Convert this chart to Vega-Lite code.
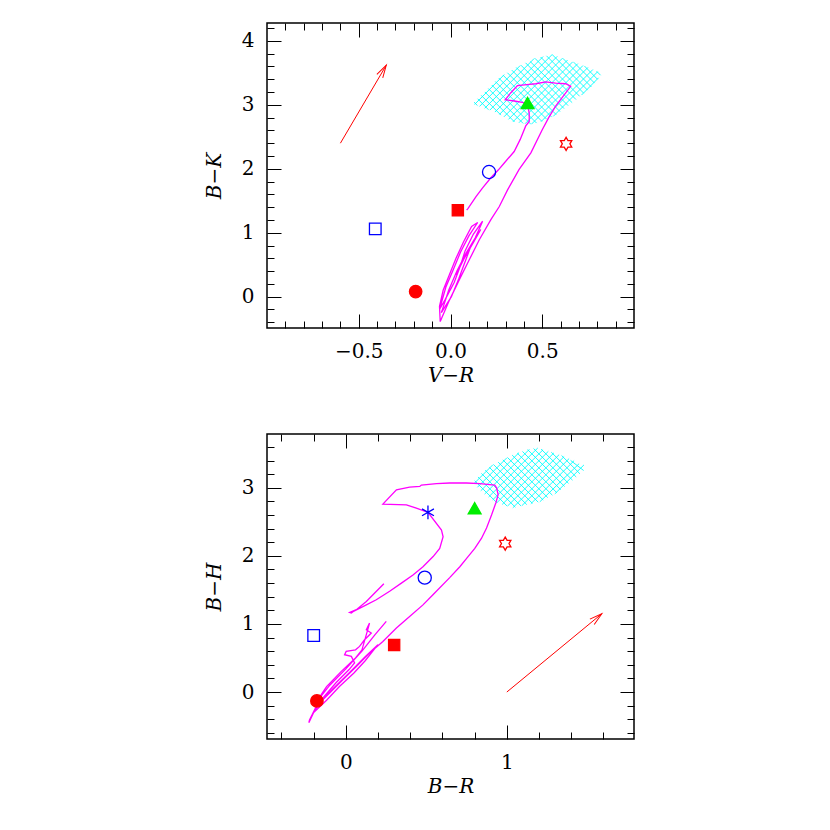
{
  "$schema": "https://vega.github.io/schema/vega-lite/v6.json",
  "padding": {"left": 203, "top": 17, "right": 5, "bottom": 5},
  "background": "white",
  "bounds": "flush",
  "spacing": 106,
  "config": {
    "view": {"stroke": "#000000", "strokeWidth": 1.5},
    "axis": {
      "grid": false, "domain": false, "tickColor": "#000000", "tickWidth": 1,
      "labelFont": "DejaVu Serif", "labelFontSize": 20, "labelColor": "#000000",
      "titleFont": "DejaVu Serif", "titleFontSize": 20, "titleFontStyle": "italic",
      "titleFontWeight": "normal", "titleColor": "#000000",
      "labelOverlap": false, "labelFlush": false
    }
  },
  "datasets": {
    "hatchTop": [
      {"x":0.293,"y":3.473,"x2":0.131,"y2":3.006},{"x":0.380,"y":3.615,"x2":0.158,"y2":2.975},
      {"x":0.456,"y":3.725,"x2":0.186,"y2":2.945},{"x":0.505,"y":3.756,"x2":0.214,"y2":2.917},
      {"x":0.554,"y":3.787,"x2":0.242,"y2":2.887},{"x":0.582,"y":3.759,"x2":0.267,"y2":2.851},
      {"x":0.610,"y":3.729,"x2":0.291,"y2":2.812},{"x":0.638,"y":3.701,"x2":0.316,"y2":2.773},
      {"x":0.666,"y":3.673,"x2":0.341,"y2":2.737},{"x":0.694,"y":3.645,"x2":0.373,"y2":2.720},
      {"x":0.722,"y":3.615,"x2":0.406,"y2":2.704},{"x":0.749,"y":3.585,"x2":0.442,"y2":2.700},
      {"x":0.776,"y":3.553,"x2":0.493,"y2":2.736},{"x":0.802,"y":3.518,"x2":0.560,"y2":2.820},
      {"x":0.807,"y":3.423,"x2":0.714,"y2":3.153},
      {"x":0.128,"y":3.042,"x2":0.147,"y2":2.989},{"x":0.148,"y":3.095,"x2":0.207,"y2":2.923},
      {"x":0.167,"y":3.149,"x2":0.275,"y2":2.839},{"x":0.187,"y":3.202,"x2":0.349,"y2":2.732},
      {"x":0.206,"y":3.255,"x2":0.396,"y2":2.709},{"x":0.225,"y":3.310,"x2":0.438,"y2":2.696},
      {"x":0.244,"y":3.365,"x2":0.469,"y2":2.715},{"x":0.263,"y":3.419,"x2":0.498,"y2":2.742},
      {"x":0.287,"y":3.462,"x2":0.524,"y2":2.775},{"x":0.310,"y":3.502,"x2":0.551,"y2":2.809},
      {"x":0.334,"y":3.543,"x2":0.576,"y2":2.847},{"x":0.358,"y":3.584,"x2":0.597,"y2":2.894},
      {"x":0.384,"y":3.620,"x2":0.619,"y2":2.941},{"x":0.409,"y":3.657,"x2":0.641,"y2":2.988},
      {"x":0.434,"y":3.678,"x2":0.663,"y2":3.034},{"x":0.460,"y":3.728,"x2":0.684,"y2":3.083},
      {"x":0.491,"y":3.748,"x2":0.704,"y2":3.133},{"x":0.523,"y":3.767,"x2":0.726,"y2":3.182},
      {"x":0.554,"y":3.787,"x2":0.747,"y2":3.230},{"x":0.612,"y":3.728,"x2":0.768,"y2":3.279},
      {"x":0.671,"y":3.668,"x2":0.785,"y2":3.340},{"x":0.730,"y":3.607,"x2":0.801,"y2":3.401},
      {"x":0.796,"y":3.526,"x2":0.818,"y2":3.463}
    ],
    "hatchBot": [
      {"x":0.913,"y":3.338,"x2":0.795,"y2":3.059},{"x":1.000,"y":3.440,"x2":0.817,"y2":3.007},
      {"x":1.076,"y":3.517,"x2":0.838,"y2":2.956},{"x":1.140,"y":3.565,"x2":0.862,"y2":2.908},
      {"x":1.192,"y":3.584,"x2":0.887,"y2":2.865},{"x":1.225,"y":3.559,"x2":0.912,"y2":2.822},
      {"x":1.258,"y":3.536,"x2":0.938,"y2":2.780},{"x":1.292,"y":3.512,"x2":0.971,"y2":2.755},
      {"x":1.325,"y":3.487,"x2":1.004,"y2":2.731},{"x":1.356,"y":3.459,"x2":1.037,"y2":2.706},
      {"x":1.387,"y":3.429,"x2":1.093,"y2":2.736},{"x":1.418,"y":3.399,"x2":1.149,"y2":2.765},
      {"x":1.449,"y":3.354,"x2":1.205,"y2":2.794},{"x":1.479,"y":3.336,"x2":1.298,"y2":2.910},
      {"x":0.800,"y":3.104,"x2":0.938,"y2":2.780},{"x":0.821,"y":3.159,"x2":1.001,"y2":2.733},
      {"x":0.842,"y":3.211,"x2":1.053,"y2":2.714},{"x":0.866,"y":3.258,"x2":1.088,"y2":2.733},
      {"x":0.891,"y":3.301,"x2":1.124,"y2":2.752},{"x":0.917,"y":3.342,"x2":1.159,"y2":2.771},
      {"x":0.946,"y":3.377,"x2":1.195,"y2":2.788},{"x":0.975,"y":3.411,"x2":1.226,"y2":2.819},
      {"x":1.004,"y":3.445,"x2":1.254,"y2":2.856},{"x":1.033,"y":3.480,"x2":1.283,"y2":2.891},
      {"x":1.065,"y":3.508,"x2":1.311,"y2":2.927},{"x":1.097,"y":3.534,"x2":1.335,"y2":2.972},
      {"x":1.129,"y":3.561,"x2":1.359,"y2":3.019},{"x":1.166,"y":3.577,"x2":1.383,"y2":3.065},
      {"x":1.213,"y":3.568,"x2":1.408,"y2":3.112},{"x":1.276,"y":3.523,"x2":1.431,"y2":3.159},
      {"x":1.340,"y":3.474,"x2":1.454,"y2":3.206},{"x":1.396,"y":3.402,"x2":1.477,"y2":3.254}
    ],
    "trackTop": [
      {"i":1,"x":0.088,"y":1.355},{"i":2,"x":0.094,"y":1.372},{"i":3,"x":0.140,"y":1.57},{"i":4,"x":0.175,"y":1.70},
      {"i":5,"x":0.220,"y":1.86},{"i":6,"x":0.260,"y":1.98},{"i":7,"x":0.293,"y":2.09},{"i":8,"x":0.347,"y":2.27},
      {"i":9,"x":0.380,"y":2.46},{"i":10,"x":0.410,"y":2.67},{"i":11,"x":0.429,"y":2.74},{"i":12,"x":0.429,"y":2.87},
      {"i":13,"x":0.420,"y":3.00},{"i":14,"x":0.392,"y":3.04},{"i":15,"x":0.347,"y":3.06},{"i":16,"x":0.298,"y":3.08},
      {"i":17,"x":0.329,"y":3.19},{"i":18,"x":0.365,"y":3.30},{"i":19,"x":0.429,"y":3.32},{"i":20,"x":0.465,"y":3.33},
      {"i":21,"x":0.519,"y":3.36},{"i":22,"x":0.573,"y":3.34},{"i":23,"x":0.628,"y":3.33},{"i":24,"x":0.655,"y":3.29},
      {"i":25,"x":0.600,"y":3.08},{"i":26,"x":0.573,"y":2.98},{"i":27,"x":0.535,"y":2.80},{"i":28,"x":0.500,"y":2.61},
      {"i":29,"x":0.438,"y":2.25},{"i":30,"x":0.374,"y":1.99},{"i":31,"x":0.311,"y":1.67},{"i":32,"x":0.266,"y":1.41},
      {"i":33,"x":0.220,"y":1.205},{"i":34,"x":0.157,"y":0.89},{"i":35,"x":0.103,"y":0.58},{"i":36,"x":0.049,"y":0.27},
      {"i":37,"x":-0.005,"y":-0.05},{"i":38,"x":-0.056,"y":-0.39},{"i":39,"x":-0.060,"y":-0.15},{"i":40,"x":-0.040,"y":0.10},
      {"i":41,"x":-0.005,"y":0.35},{"i":42,"x":0.030,"y":0.60},{"i":43,"x":0.070,"y":0.85},{"i":44,"x":0.115,"y":1.10},
      {"i":45,"x":0.148,"y":1.16},{"i":46,"x":0.100,"y":0.95},{"i":47,"x":0.055,"y":0.70},{"i":48,"x":0.015,"y":0.42},
      {"i":49,"x":-0.025,"y":0.15},{"i":50,"x":-0.060,"y":-0.20},{"i":51,"x":-0.030,"y":-0.05},{"i":52,"x":0.020,"y":0.22},
      {"i":53,"x":0.050,"y":0.45},{"i":54,"x":0.080,"y":0.72},{"i":55,"x":0.125,"y":0.98},{"i":56,"x":0.175,"y":1.18},
      {"i":57,"x":0.135,"y":0.92},{"i":58,"x":0.085,"y":0.68},{"i":59,"x":0.035,"y":0.40},{"i":60,"x":-0.010,"y":0.10},
      {"i":61,"x":-0.035,"y":-0.12},{"i":62,"x":-0.050,"y":-0.25},{"i":63,"x":0.005,"y":0.00},{"i":64,"x":0.045,"y":0.28},
      {"i":65,"x":0.080,"y":0.55},{"i":66,"x":0.115,"y":0.82},{"i":67,"x":0.165,"y":1.05},{"i":68,"x":0.125,"y":0.85},
      {"i":69,"x":0.075,"y":0.60},{"i":70,"x":0.030,"y":0.34}
    ],
    "trackBot": [
      {"i":1,"x":0.236,"y":1.59},{"i":2,"x":0.127,"y":1.33},{"i":3,"x":0.065,"y":1.21},{"i":4,"x":0.023,"y":1.17},
      {"i":5,"x":0.034,"y":1.16},{"i":6,"x":0.044,"y":1.18},{"i":7,"x":0.127,"y":1.28},{"i":8,"x":0.189,"y":1.355},
      {"i":9,"x":0.272,"y":1.48},{"i":10,"x":0.345,"y":1.60},{"i":11,"x":0.417,"y":1.72},{"i":12,"x":0.479,"y":1.84},
      {"i":13,"x":0.542,"y":1.99},{"i":14,"x":0.583,"y":2.11},{"i":15,"x":0.604,"y":2.28},{"i":16,"x":0.594,"y":2.38},
      {"i":17,"x":0.510,"y":2.64},{"i":18,"x":0.438,"y":2.70},{"i":19,"x":0.376,"y":2.75},{"i":20,"x":0.230,"y":2.76},
      {"i":21,"x":0.314,"y":2.97},{"i":22,"x":0.396,"y":3.01},{"i":23,"x":0.459,"y":3.02},{"i":24,"x":0.469,"y":3.04},
      {"i":25,"x":0.563,"y":3.06},{"i":26,"x":0.645,"y":3.07},{"i":27,"x":0.749,"y":3.07},{"i":28,"x":0.832,"y":3.06},
      {"i":29,"x":0.925,"y":3.04},{"i":30,"x":0.936,"y":3.00},{"i":31,"x":0.946,"y":2.90},{"i":32,"x":0.932,"y":2.78},
      {"i":33,"x":0.905,"y":2.60},{"i":34,"x":0.874,"y":2.41},{"i":35,"x":0.843,"y":2.26},{"i":36,"x":0.801,"y":2.11},
      {"i":37,"x":0.759,"y":1.99},{"i":38,"x":0.708,"y":1.84},{"i":39,"x":0.645,"y":1.68},{"i":40,"x":0.541,"y":1.43},
      {"i":41,"x":0.479,"y":1.28},{"i":42,"x":0.396,"y":1.11},{"i":43,"x":0.314,"y":0.94},{"i":44,"x":0.230,"y":0.743},
      {"i":45,"x":0.147,"y":0.573},{"i":46,"x":0.065,"y":0.376},{"i":47,"x":-0.019,"y":0.18},{"i":48,"x":-0.101,"y":-0.015},
      {"i":49,"x":-0.184,"y":-0.21},{"i":50,"x":-0.226,"y":-0.41},{"i":51,"x":-0.230,"y":-0.45},{"i":52,"x":-0.200,"y":-0.30},
      {"i":53,"x":-0.120,"y":-0.12},{"i":54,"x":-0.040,"y":0.08},{"i":55,"x":0.050,"y":0.28},{"i":56,"x":0.120,"y":0.46},
      {"i":57,"x":0.199,"y":0.695},{"i":58,"x":0.120,"y":0.52},{"i":59,"x":0.020,"y":0.28},{"i":60,"x":-0.080,"y":0.05},
      {"i":61,"x":-0.164,"y":-0.162},{"i":62,"x":-0.210,"y":-0.33},{"i":63,"x":-0.140,"y":-0.08},{"i":64,"x":-0.060,"y":0.14},
      {"i":65,"x":0.020,"y":0.33},{"i":66,"x":0.054,"y":0.426},{"i":67,"x":0.034,"y":0.523},{"i":68,"x":-0.008,"y":0.548},
      {"i":69,"x":0.002,"y":0.596},{"i":70,"x":0.060,"y":0.62},{"i":71,"x":0.085,"y":0.67},{"i":72,"x":0.116,"y":0.768},
      {"i":73,"x":0.158,"y":0.866},{"i":74,"x":0.127,"y":0.915},{"i":75,"x":0.147,"y":1.013},{"i":76,"x":0.140,"y":0.95},
      {"i":77,"x":0.100,"y":0.62},{"i":78,"x":0.060,"y":0.50},{"i":79,"x":-0.030,"y":0.30},{"i":80,"x":-0.120,"y":0.08},
      {"i":81,"x":-0.195,"y":-0.186},{"i":82,"x":-0.100,"y":0.10},{"i":83,"x":0.000,"y":0.34},{"i":84,"x":0.100,"y":0.60},
      {"i":85,"x":0.180,"y":0.84},{"i":86,"x":0.251,"y":1.037}
    ],
    "markTop": [
      {"x":-0.19,"y":0.08,"sym":"fcircle"},{"x":-0.41,"y":1.06,"sym":"osquare"},
      {"x":0.04,"y":1.35,"sym":"fsquare"},{"x":0.21,"y":1.95,"sym":"ocircle"},
      {"x":0.42,"y":3.03,"sym":"triangle"},{"x":0.63,"y":2.39,"sym":"star"}
    ],
    "markBot": [
      {"x":-0.18,"y":-0.13,"sym":"fcircle"},{"x":-0.20,"y":0.83,"sym":"osquare"},
      {"x":0.30,"y":0.69,"sym":"fsquare"},{"x":0.49,"y":1.68,"sym":"ocircle"},
      {"x":0.51,"y":2.64,"sym":"asterisk"},{"x":0.80,"y":2.70,"sym":"triangle"},
      {"x":0.99,"y":2.18,"sym":"star"}
    ],
    "arrowTop": [{"x":-0.60,"y":2.40,"x2":-0.35,"y2":3.62}],
    "arrowBot": [{"x":1.0,"y":0.0,"x2":1.59,"y2":1.15}]
  },
  "vconcat": [
    {
      "width": 367, "height": 305,
      "resolve": {"axis": {"x": "independent", "y": "independent"}},
      "layer": [
        {
          "data": {"name": "hatchTop"},
          "mark": {"type": "rule", "color": "#00ffff", "strokeWidth": 0.9},
          "encoding": {
            "x": {"field": "x", "type": "quantitative", "scale": {"domain": [-1, 1], "nice": false, "zero": false}, "axis": null},
            "y": {"field": "y", "type": "quantitative", "scale": {"domain": [-0.49, 4.28], "nice": false, "zero": false}, "axis": null},
            "x2": {"field": "x2"}, "y2": {"field": "y2"}
          }
        },
        {
          "data": {"name": "trackTop"},
          "mark": {"type": "line", "color": "#ff00ff", "strokeWidth": 1.3},
          "encoding": {
            "x": {"field": "x", "type": "quantitative", "scale": {"domain": [-1, 1], "nice": false, "zero": false}, "axis": null},
            "y": {"field": "y", "type": "quantitative", "scale": {"domain": [-0.49, 4.28], "nice": false, "zero": false}, "axis": null},
            "order": {"field": "i", "type": "quantitative"}
          }
        },
        {
          "data": {"name": "arrowTop"},
          "mark": {"type": "rule", "color": "#ff0000", "strokeWidth": 1},
          "encoding": {
            "x": {"field": "x", "type": "quantitative", "scale": {"domain": [-1, 1], "nice": false, "zero": false},
              "axis": {"orient": "top", "values": [-0.9,-0.8,-0.7,-0.6,-0.5,-0.4,-0.3,-0.2,-0.1,0,0.1,0.2,0.3,0.4,0.5,0.6,0.7,0.8,0.9],
                "tickSize": {"condition": {"test": "abs(datum.value*2-round(datum.value*2))<0.001", "value": -14}, "value": -7},
                "labels": false, "title": null}},
            "y": {"field": "y", "type": "quantitative", "scale": {"domain": [-0.49, 4.28], "nice": false, "zero": false},
              "axis": {"orient": "right", "values": [-0.4,-0.2,0,0.2,0.4,0.6,0.8,1,1.2,1.4,1.6,1.8,2,2.2,2.4,2.6,2.8,3,3.2,3.4,3.6,3.8,4,4.2],
                "tickSize": {"condition": {"test": "abs(datum.value-round(datum.value))<0.001", "value": -14}, "value": -7},
                "labels": false, "title": null}},
            "x2": {"field": "x2"}, "y2": {"field": "y2"}
          }
        },
        {
          "data": {"name": "arrowTop"},
          "mark": {"type": "point", "shape": "M-0.27,1L0,0L0.27,1", "size": 640, "angle": 30.7, "filled": false, "stroke": "#ff0000", "strokeWidth": 1, "opacity": 1},
          "encoding": {
            "x": {"field": "x2", "type": "quantitative", "scale": {"domain": [-1, 1], "nice": false, "zero": false}, "axis": null},
            "y": {"field": "y2", "type": "quantitative", "scale": {"domain": [-0.49, 4.28], "nice": false, "zero": false}, "axis": null}
          }
        },
        {
          "data": {"name": "markTop"},
          "mark": {"type": "point", "filled": true, "strokeWidth": 1.3, "opacity": 1},
          "encoding": {
            "x": {"field": "x", "type": "quantitative", "scale": {"domain": [-1, 1], "nice": false, "zero": false},
              "axis": {"orient": "bottom", "values": [-0.9,-0.8,-0.7,-0.6,-0.5,-0.4,-0.3,-0.2,-0.1,0,0.1,0.2,0.3,0.4,0.5,0.6,0.7,0.8,0.9],
                "tickSize": {"condition": {"test": "abs(datum.value*2-round(datum.value*2))<0.001", "value": -14}, "value": -7},
                "labelExpr": "abs(datum.value*2-round(datum.value*2))<0.001 ? format(datum.value,'.1f') : ''",
                "labelPadding": 27, "title": "V−R", "titleY": 37}},
            "y": {"field": "y", "type": "quantitative", "scale": {"domain": [-0.49, 4.28], "nice": false, "zero": false},
              "axis": {"orient": "left", "values": [-0.4,-0.2,0,0.2,0.4,0.6,0.8,1,1.2,1.4,1.6,1.8,2,2.2,2.4,2.6,2.8,3,3.2,3.4,3.6,3.8,4,4.2],
                "tickSize": {"condition": {"test": "abs(datum.value-round(datum.value))<0.001", "value": -14}, "value": -7},
                "labelExpr": "abs(datum.value-round(datum.value))<0.001 ? format(datum.value,'d') : ''",
                "labelPadding": 27, "title": "B−K", "titleX": -43, "titleAngle": -90, "titleBaseline": "bottom", "titleAlign": "center"}},
            "shape": {"field": "sym", "type": "nominal", "legend": null, "scale": {"domain": ["fcircle","osquare","fsquare","ocircle","triangle","star","asterisk"],
              "range": ["circle","square","square","circle","triangle-up","M0,-1L0.289,-0.5L0.866,-0.5L0.577,0L0.866,0.5L0.289,0.5L0,1L-0.289,0.5L-0.866,0.5L-0.577,0L-0.866,-0.5L-0.289,-0.5Z","M0,-1L0,1M-0.866,-0.5L0.866,0.5M-0.866,0.5L0.866,-0.5"]}},
            "size": {"field": "sym", "type": "nominal", "legend": null, "scale": {"type": "ordinal", "domain": ["fcircle","osquare","fsquare","ocircle","triangle","star","asterisk"], "range": [155, 135, 125, 172, 165, 170, 190]}},
            "fill": {"field": "sym", "type": "nominal", "legend": null, "scale": {"domain": ["fcircle","osquare","fsquare","ocircle","triangle","star","asterisk"], "range": ["#ff0000","transparent","#ff0000","transparent","#00ee00","transparent","transparent"]}},
            "stroke": {"field": "sym", "type": "nominal", "legend": null, "scale": {"domain": ["fcircle","osquare","fsquare","ocircle","triangle","star","asterisk"], "range": ["#ff0000","#0000ff","#ff0000","#0000ff","#00ee00","#ff0000","#0000ff"]}}
          }
        }
      ]
    },
    {
      "width": 367, "height": 305,
      "resolve": {"axis": {"x": "independent", "y": "independent"}},
      "layer": [
        {
          "data": {"name": "hatchBot"},
          "mark": {"type": "rule", "color": "#00ffff", "strokeWidth": 0.9},
          "encoding": {
            "x": {"field": "x", "type": "quantitative", "scale": {"domain": [-0.49, 1.79], "nice": false, "zero": false}, "axis": null},
            "y": {"field": "y", "type": "quantitative", "scale": {"domain": [-0.69, 3.79], "nice": false, "zero": false}, "axis": null},
            "x2": {"field": "x2"}, "y2": {"field": "y2"}
          }
        },
        {
          "data": {"name": "trackBot"},
          "mark": {"type": "line", "color": "#ff00ff", "strokeWidth": 1.3},
          "encoding": {
            "x": {"field": "x", "type": "quantitative", "scale": {"domain": [-0.49, 1.79], "nice": false, "zero": false}, "axis": null},
            "y": {"field": "y", "type": "quantitative", "scale": {"domain": [-0.69, 3.79], "nice": false, "zero": false}, "axis": null},
            "order": {"field": "i", "type": "quantitative"}
          }
        },
        {
          "data": {"name": "arrowBot"},
          "mark": {"type": "rule", "color": "#ff0000", "strokeWidth": 1},
          "encoding": {
            "x": {"field": "x", "type": "quantitative", "scale": {"domain": [-0.49, 1.79], "nice": false, "zero": false},
              "axis": {"orient": "top", "values": [-0.4,-0.2,0,0.2,0.4,0.6,0.8,1,1.2,1.4,1.6],
                "tickSize": {"condition": {"test": "abs(datum.value-round(datum.value))<0.001", "value": -14}, "value": -7},
                "labels": false, "title": null}},
            "y": {"field": "y", "type": "quantitative", "scale": {"domain": [-0.69, 3.79], "nice": false, "zero": false},
              "axis": {"orient": "right", "values": [-0.6,-0.4,-0.2,0,0.2,0.4,0.6,0.8,1,1.2,1.4,1.6,1.8,2,2.2,2.4,2.6,2.8,3,3.2,3.4,3.6],
                "tickSize": {"condition": {"test": "abs(datum.value-round(datum.value))<0.001", "value": -14}, "value": -7},
                "labels": false, "title": null}},
            "x2": {"field": "x2"}, "y2": {"field": "y2"}
          }
        },
        {
          "data": {"name": "arrowBot"},
          "mark": {"type": "point", "shape": "M-0.27,1L0,0L0.27,1", "size": 640, "angle": 50.4, "filled": false, "stroke": "#ff0000", "strokeWidth": 1, "opacity": 1},
          "encoding": {
            "x": {"field": "x2", "type": "quantitative", "scale": {"domain": [-0.49, 1.79], "nice": false, "zero": false}, "axis": null},
            "y": {"field": "y2", "type": "quantitative", "scale": {"domain": [-0.69, 3.79], "nice": false, "zero": false}, "axis": null}
          }
        },
        {
          "data": {"name": "markBot"},
          "mark": {"type": "point", "filled": true, "strokeWidth": 1.3, "opacity": 1},
          "encoding": {
            "x": {"field": "x", "type": "quantitative", "scale": {"domain": [-0.49, 1.79], "nice": false, "zero": false},
              "axis": {"orient": "bottom", "values": [-0.4,-0.2,0,0.2,0.4,0.6,0.8,1,1.2,1.4,1.6],
                "tickSize": {"condition": {"test": "abs(datum.value-round(datum.value))<0.001", "value": -14}, "value": -7},
                "labelExpr": "abs(datum.value-round(datum.value))<0.001 ? format(datum.value,'d') : ''",
                "labelPadding": 27, "title": "B−R", "titleY": 37}},
            "y": {"field": "y", "type": "quantitative", "scale": {"domain": [-0.69, 3.79], "nice": false, "zero": false},
              "axis": {"orient": "left", "values": [-0.6,-0.4,-0.2,0,0.2,0.4,0.6,0.8,1,1.2,1.4,1.6,1.8,2,2.2,2.4,2.6,2.8,3,3.2,3.4,3.6],
                "tickSize": {"condition": {"test": "abs(datum.value-round(datum.value))<0.001", "value": -14}, "value": -7},
                "labelExpr": "abs(datum.value-round(datum.value))<0.001 ? format(datum.value,'d') : ''",
                "labelPadding": 27, "title": "B−H", "titleX": -43, "titleAngle": -90, "titleBaseline": "bottom", "titleAlign": "center"}},
            "shape": {"field": "sym", "type": "nominal", "legend": null, "scale": {"domain": ["fcircle","osquare","fsquare","ocircle","triangle","star","asterisk"],
              "range": ["circle","square","square","circle","triangle-up","M0,-1L0.289,-0.5L0.866,-0.5L0.577,0L0.866,0.5L0.289,0.5L0,1L-0.289,0.5L-0.866,0.5L-0.577,0L-0.866,-0.5L-0.289,-0.5Z","M0,-1L0,1M-0.866,-0.5L0.866,0.5M-0.866,0.5L0.866,-0.5"]}},
            "size": {"field": "sym", "type": "nominal", "legend": null, "scale": {"type": "ordinal", "domain": ["fcircle","osquare","fsquare","ocircle","triangle","star","asterisk"], "range": [155, 135, 125, 172, 165, 170, 190]}},
            "fill": {"field": "sym", "type": "nominal", "legend": null, "scale": {"domain": ["fcircle","osquare","fsquare","ocircle","triangle","star","asterisk"], "range": ["#ff0000","transparent","#ff0000","transparent","#00ee00","transparent","transparent"]}},
            "stroke": {"field": "sym", "type": "nominal", "legend": null, "scale": {"domain": ["fcircle","osquare","fsquare","ocircle","triangle","star","asterisk"], "range": ["#ff0000","#0000ff","#ff0000","#0000ff","#00ee00","#ff0000","#0000ff"]}}
          }
        }
      ]
    }
  ]
}
